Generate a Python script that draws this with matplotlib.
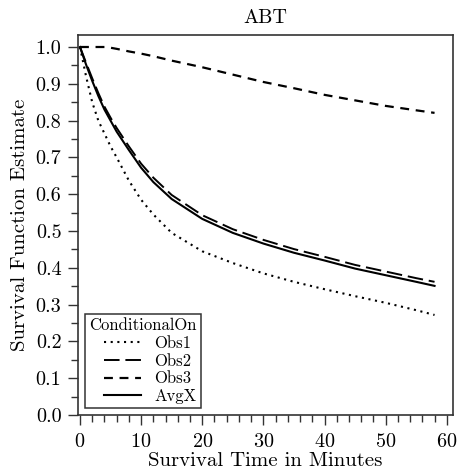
import matplotlib
matplotlib.use("Agg")
import matplotlib.pyplot as plt
from matplotlib.ticker import MultipleLocator

# ── Data ────────────────────────────────────────────────────────────────────
t = [0, 1, 2, 3, 4, 5, 6, 8, 10, 12, 15, 20, 25, 30, 35, 40, 45, 50, 55, 58]
obs1 = [1.0, 0.92, 0.85, 0.80, 0.765, 0.73, 0.70, 0.637, 0.585, 0.545, 0.495,
        0.445, 0.413, 0.385, 0.362, 0.342, 0.323, 0.305, 0.285, 0.272]
obs2 = [1.0, 0.957, 0.915, 0.875, 0.838, 0.808, 0.78, 0.73, 0.683, 0.645, 0.598,
        0.543, 0.505, 0.476, 0.451, 0.43, 0.408, 0.39, 0.372, 0.362]
obs3 = [1.0, 1.0, 1.0, 1.0, 1.0, 0.998, 0.995, 0.988, 0.982, 0.975, 0.963,
        0.945, 0.925, 0.905, 0.888, 0.870, 0.855, 0.84, 0.828, 0.821]
avgx = [1.0, 0.952, 0.908, 0.867, 0.83, 0.80, 0.77, 0.72, 0.672, 0.633, 0.587,
        0.533, 0.495, 0.466, 0.441, 0.42, 0.398, 0.38, 0.362, 0.351]

# ── Style ───────────────────────────────────────────────────────────────────
plt.rcParams.update({
    "font.family": "serif",
    "font.serif": ["cmr10", "DejaVu Serif"],
    "mathtext.fontset": "cm",
    "axes.formatter.use_mathtext": True,
    "axes.unicode_minus": False,
})

fig = plt.figure(figsize=(4.57, 4.76), dpi=100)
ax = fig.add_axes([0.171, 0.128, 0.820, 0.798])

ax.plot(t, obs1, color="black", lw=1.5, linestyle=(0, (1, 2.2)), label="Obs1")
ax.plot(t, obs2, color="black", lw=1.4, linestyle=(0, (8, 3)), label="Obs2")
ax.plot(t, obs3, color="black", lw=1.6, linestyle=(0, (4, 3)), label="Obs3")
ax.plot(t, avgx, color="black", lw=1.5, linestyle="-", label="AvgX")

ax.set_xlim(-0.3, 61)
ax.set_ylim(0, 1.032)
ax.xaxis.set_major_locator(MultipleLocator(10))
ax.xaxis.set_minor_locator(MultipleLocator(2))
ax.yaxis.set_major_locator(MultipleLocator(0.1))
ax.yaxis.set_minor_locator(MultipleLocator(0.05))
ax.yaxis.set_major_formatter(plt.FuncFormatter(lambda v, _: f"{v:.1f}"))
ax.tick_params(which="major", direction="out", length=7, width=1, pad=5,
               labelsize=14.5, color="#333333")
ax.tick_params(which="minor", direction="out", length=5, width=1, color="#333333")
ax.tick_params(axis="x", which="major", pad=6)

for sp in ax.spines.values():
    sp.set_linewidth(1.2)
    sp.set_color("#333333")

ax.set_title("ABT", fontsize=14.5, pad=9)
ax.set_xlabel("Survival Time in Minutes", fontsize=15, labelpad=1)
ax.set_ylabel("Survival Function Estimate", fontsize=15, labelpad=5)

leg = ax.legend(title="ConditionalOn", loc="lower left", fontsize=12, title_fontsize=12,
                frameon=True, fancybox=False, edgecolor="black", handlelength=2.2,
                handletextpad=0.8, borderaxespad=0.4, labelspacing=0.15,
                borderpad=0.25, alignment="right")
leg.get_frame().set_linewidth(1.1)

fig.savefig("out.png", dpi=100)
